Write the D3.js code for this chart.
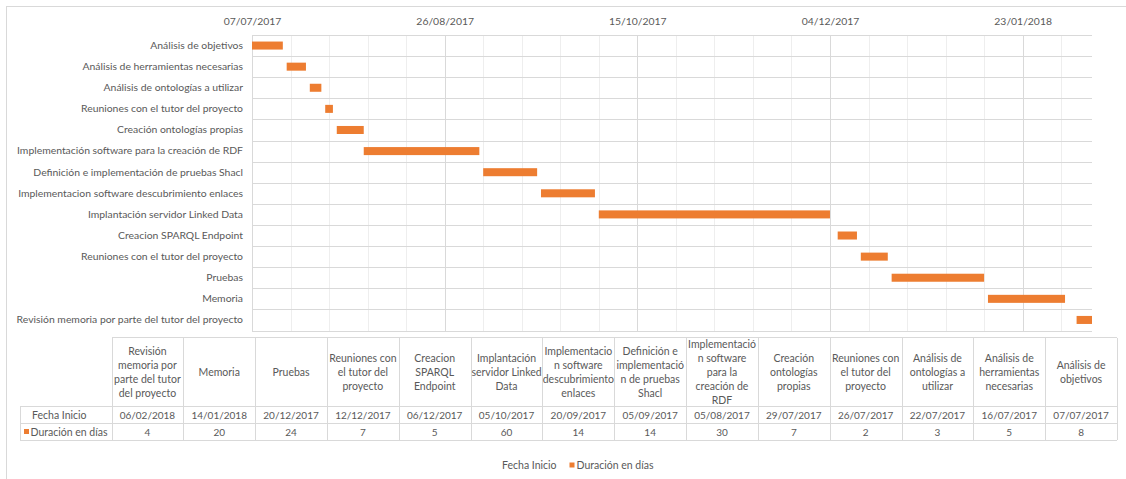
<!DOCTYPE html>
<html><head><meta charset="utf-8">
<script src="https://cdn.jsdelivr.net/npm/d3@7"></script>
<style>
body{margin:0;background:#fff}
svg{display:block}
text{font-family:Lato, Carlito, Calibri, sans-serif;fill:#595959}
</style>
</head><body>
<svg id="c" width="1126" height="479"></svg>
<script>
// ---- data ----
const categories = [
  "Análisis de objetivos",
  "Análisis de herramientas necesarias",
  "Análisis de ontologías a utilizar",
  "Reuniones con el tutor del proyecto",
  "Creación ontologías propias",
  "Implementación software para la creación de RDF",
  "Definición e implementación de pruebas Shacl",
  "Implementacion software descubrimiento enlaces",
  "Implantación servidor Linked Data",
  "Creacion SPARQL Endpoint",
  "Reuniones con el tutor del proyecto",
  "Pruebas",
  "Memoria",
  "Revisión memoria por parte del tutor del proyecto"
];
const startDates = [
  "07/07/2017","16/07/2017","22/07/2017","26/07/2017","29/07/2017",
  "05/08/2017","05/09/2017","20/09/2017","05/10/2017","06/12/2017",
  "12/12/2017","20/12/2017","14/01/2018","06/02/2018"
];
const durations = [8, 5, 3, 2, 7, 30, 14, 14, 60, 5, 7, 24, 20, 4];
const tickLabels = ["07/07/2017","26/08/2017","15/10/2017","04/12/2017","23/01/2018"];
const axisBounds = ["07/07/2017","10/02/2018"];
const seriesNames = ["Fecha Inicio","Duración en días"];
// table header text as wrapped in the data table (same order as categories)
const tableHeaderLines = [
  ["Análisis de","objetivos"],
  ["Análisis de","herramientas","necesarias"],
  ["Análisis de","ontologías a","utilizar"],
  ["Reuniones con","el tutor del","proyecto"],
  ["Creación","ontologías","propias"],
  ["Implementació","n software","para la","creación de","RDF"],
  ["Definición e","implementació","n de pruebas","Shacl"],
  ["Implementacio","n software","descubrimiento","enlaces"],
  ["Implantación","servidor Linked","Data"],
  ["Creacion","SPARQL","Endpoint"],
  ["Reuniones con","el tutor del","proyecto"],
  ["Pruebas"],
  ["Memoria"],
  ["Revisión","memoria por","parte del tutor","del proyecto"]
];

// ---- layout ----
const W = 1126, H = 479;
const FS = 10.5, FS_LABEL = 10.4, FS_NUM = 10;
const orange = "#ED7D31";
const gridMajor = "#d9d9d9", gridMinor = "#eeeeee", border = "#d9d9d9";
const plot = {left: 252, right: 1092, top: 35, bottom: 330.5};
const table = {left: 111.5, right: 1117, top: 337.5, headBottom: 406, row1: 423, row2: 440, labelLeft: 20};

const parse = d3.utcParse("%d/%m/%Y");
const fmt = d3.utcFormat("%d/%m/%Y");
const svg = d3.select("#c");

// chart frame
svg.append("rect").attr("x", 6.5).attr("y", 6.5).attr("width", W + 20).attr("height", H + 20)
  .attr("fill", "none").attr("stroke", border);

const x = d3.scaleUtc().domain(axisBounds.map(parse)).range([plot.left, plot.right]);
const idx = d3.range(categories.length);
const yRow = d3.scaleBand().domain(idx).range([plot.top, plot.bottom]);
const y = d3.scaleBand().domain(idx).range([plot.top, plot.bottom]).paddingInner(0.62).paddingOuter(0.31);

// minor vertical gridlines (every 10 days)
const d0 = x.domain()[0], d1 = x.domain()[1];
const nDays = d3.utcDay.count(d0, d1);
const minor = d3.range(0, nDays + 1, 10).map(k => d3.utcDay.offset(d0, k));
const g = svg.append("g").attr("shape-rendering", "crispEdges");
g.selectAll("line.minor").data(minor).join("line")
  .attr("x1", d => Math.round(x(d)) + 0.5).attr("x2", d => Math.round(x(d)) + 0.5)
  .attr("y1", plot.top).attr("y2", plot.bottom).attr("stroke", gridMinor);
const tickDates = tickLabels.map(parse);
g.selectAll("line.major").data(tickDates).join("line")
  .attr("x1", d => Math.round(x(d)) + 0.5).attr("x2", d => Math.round(x(d)) + 0.5)
  .attr("y1", plot.top).attr("y2", plot.bottom).attr("stroke", gridMajor);
// horizontal gridlines at row boundaries
const rowEdges = idx.map(i => yRow(i)).concat([plot.bottom]);
g.selectAll("line.h").data(rowEdges).join("line")
  .attr("x1", plot.left).attr("x2", plot.right)
  .attr("y1", d => Math.round(d) + 0.5).attr("y2", d => Math.round(d) + 0.5)
  .attr("stroke", gridMajor);

// bars
svg.append("g").selectAll("rect").data(idx).join("rect")
  .attr("x", i => x(parse(startDates[i])))
  .attr("width", i => x(d3.utcDay.offset(parse(startDates[i]), durations[i])) - x(parse(startDates[i])))
  .attr("y", i => y(i)).attr("height", y.bandwidth())
  .attr("fill", orange);

// top axis
const topAxis = svg.append("g").attr("transform", `translate(0,${plot.top})`)
  .call(d3.axisTop(x).tickValues(tickDates).tickFormat(fmt).tickSize(0).tickPadding(10));
topAxis.select(".domain").remove();
topAxis.selectAll("text").attr("font-size", FS_NUM + 0.4).attr("fill", "#595959").style("font-family", "Lato");

// left axis
const leftAxis = svg.append("g").attr("transform", `translate(${plot.left},0)`)
  .call(d3.axisLeft(yRow).tickFormat(i => categories[i]).tickSize(0).tickPadding(9));
leftAxis.select(".domain").remove();
leftAxis.selectAll("text").attr("font-size", FS_LABEL).attr("fill", "#595959").style("font-family", "Lato");

// ---- data table ----
const order = idx.slice().reverse(); // table columns: last category first
const xc = d3.scaleBand().domain(d3.range(order.length)).range([table.left, table.right]);
const tg = svg.append("g").attr("shape-rendering", "crispEdges").attr("stroke", border);
const colEdges = d3.range(order.length).map(j => xc(j)).concat([table.right]);
tg.selectAll("line.v").data(colEdges).join("line")
  .attr("x1", d => Math.round(d) + 0.5).attr("x2", d => Math.round(d) + 0.5)
  .attr("y1", table.top).attr("y2", table.row2);
tg.append("line").attr("x1", table.left).attr("x2", table.right)
  .attr("y1", table.top).attr("y2", table.top);
tg.selectAll("line.hr").data([table.headBottom, table.row1, table.row2]).join("line")
  .attr("x1", table.labelLeft).attr("x2", table.right)
  .attr("y1", d => d + 0.5).attr("y2", d => d + 0.5);
tg.append("line").attr("x1", table.labelLeft + 0.5).attr("x2", table.labelLeft + 0.5)
  .attr("y1", table.headBottom).attr("y2", table.row2);

const headCenter = (table.top + table.headBottom) / 2 + 0.5;
const LH = 13.8;
const head = svg.append("g");
order.forEach((ci, j) => {
  const lines = tableHeaderLines[ci];
  const cx = xc(j) + xc.bandwidth() / 2;
  const t = head.append("text").attr("text-anchor", "middle").attr("font-size", FS)
    .attr("x", cx);
  lines.forEach((ln, k) => {
    t.append("tspan").attr("x", cx)
      .attr("y", headCenter + (k - (lines.length - 1) / 2) * LH)
      .attr("dy", "0.35em").text(ln);
  });
});
const r1 = (table.headBottom + table.row1) / 2 + 0.5, r2 = (table.row1 + table.row2) / 2 + 0.5;
svg.append("g").selectAll("text").data(order).join("text")
  .attr("x", (ci, j) => xc(j) + xc.bandwidth() / 2).attr("y", r1).attr("dy", "0.35em")
  .attr("text-anchor", "middle").attr("font-size", FS_NUM).text(ci => startDates[ci]);
svg.append("g").selectAll("text").data(order).join("text")
  .attr("x", (ci, j) => xc(j) + xc.bandwidth() / 2).attr("y", r2).attr("dy", "0.35em")
  .attr("text-anchor", "middle").attr("font-size", FS_NUM).text(ci => durations[ci]);
// row labels
svg.append("text").attr("x", 32).attr("y", r1).attr("dy", "0.35em").attr("font-size", FS).text(seriesNames[0]);
svg.append("rect").attr("x", 24).attr("y", r2 - 3).attr("width", 5).attr("height", 5).attr("fill", orange);
svg.append("text").attr("x", 30.5).attr("y", r2).attr("dy", "0.35em").attr("font-size", FS).text(seriesNames[1]);

// ---- legend ----
const ly = 465.5;
svg.append("text").attr("x", 502).attr("y", ly).attr("dy", "0.35em").attr("font-size", FS).text(seriesNames[0]);
svg.append("rect").attr("x", 569.5).attr("y", ly - 3).attr("width", 5).attr("height", 5).attr("fill", orange);
svg.append("text").attr("x", 576.5).attr("y", ly).attr("dy", "0.35em").attr("font-size", FS).text(seriesNames[1]);
</script>
</body></html>
